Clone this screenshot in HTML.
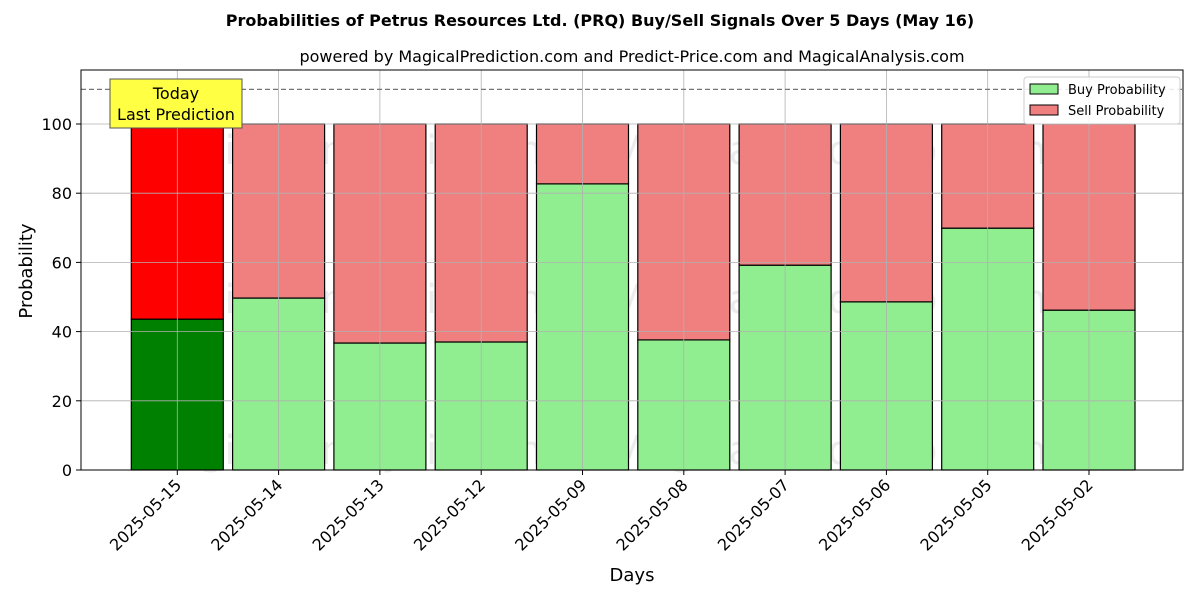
<!DOCTYPE html>
<html><head><meta charset="utf-8"><style>
body{margin:0;background:#fff}
svg text{font-family:"DejaVu Sans","Liberation Sans",sans-serif}
</style></head><body>
<svg id="chart" width="1200" height="600" viewBox="0 0 1200 600" xmlns="http://www.w3.org/2000/svg">
<text x="600" y="26" text-anchor="middle" font-size="16" font-weight="bold">Probabilities of Petrus Resources Ltd. (PRQ) Buy/Sell Signals Over 5 Days (May 16)</text>
<text x="632" y="62" text-anchor="middle" font-size="16">powered by MagicalPrediction.com and Predict-Price.com and MagicalAnalysis.com</text>
<g id="plot"></g>
</svg>
<script>
const categories=["2025-05-15","2025-05-14","2025-05-13","2025-05-12","2025-05-09","2025-05-08","2025-05-07","2025-05-06","2025-05-05","2025-05-02"];
const buyValues=[43.6,49.7,36.7,37.0,82.7,37.6,59.2,48.6,69.9,46.2];
const yTicks=[0,20,40,60,80,100];
const NS="http://www.w3.org/2000/svg";
const L=81,R=1183,T=70,B=470;
const x=i=>177.3+i*101.3;
const y=v=>B-v*3.46;
const bw=92;
const g=document.getElementById('plot');
function mk(tag,attrs,parent){const e=document.createElementNS(NS,tag);for(const k in attrs)e.setAttribute(k,attrs[k]);(parent||g).appendChild(e);return e;}
// watermarks
[["MagicalAnalysis.com",348,150],["MagicalPrediction.com",836,150],["MagicalAnalysis.com",348,299],["MagicalPrediction.com",836,299],["MagicalAnalysis.com",348,450],["MagicalPrediction.com",836,450]].forEach(w=>{
 const t=mk('text',{x:w[1],y:w[2]+14,'text-anchor':'middle','font-size':40,fill:'rgba(150,150,150,0.18)'});t.textContent=w[0];
 
 
});
categories.forEach((c,i)=>{
 const v=buyValues[i];
 const b=mk('rect',{x:x(i)-bw/2,y:y(v),width:bw,height:B-y(v),fill:i==0?'#008000':'#90ee90',stroke:'#000','stroke-width':1.2});
 
 
 const s=mk('rect',{x:x(i)-bw/2,y:y(100),width:bw,height:y(v)-y(100),fill:i==0?'#ff0000':'#f08080',stroke:'#000','stroke-width':1.2});
 
 
});
// grid
yTicks.forEach(v=>{
 const l=mk('line',{x1:L,x2:R,y1:y(v),y2:y(v),stroke:'#b0b0b0','stroke-width':0.8});
 
 
 const tk=mk('line',{x1:L-5,x2:L,y1:y(v),y2:y(v),stroke:'#000'});
 
 
 const t=mk('text',{x:L-9,y:y(v)+6,'text-anchor':'end','font-size':16});t.textContent=v;
 
 
});
categories.forEach((c,i)=>{
 const l=mk('line',{x1:x(i),x2:x(i),y1:T,y2:B,stroke:'#b0b0b0','stroke-width':0.8});
 
 
 const tk=mk('line',{x1:x(i),x2:x(i),y1:B,y2:B+5,stroke:'#000'});
 
 
 const t=mk('text',{x:0,y:0,'text-anchor':'end','font-size':16,transform:`translate(${x(i)+5},${B+16}) rotate(-45)`});t.textContent=c;
 
 
});
const d=mk('line',{x1:L,x2:R,y1:y(110),y2:y(110),stroke:'#777','stroke-width':1.2,'stroke-dasharray':'5,3'});


const fr=mk('rect',{x:L,y:T,width:R-L,height:B-T,fill:'none',stroke:'#000','stroke-width':1});


// annotation
const ab=mk('rect',{x:110,y:79,width:132,height:49,fill:'#ffff44',stroke:'#555','stroke-width':1});


[["Today",99],["Last Prediction",120]].forEach(a=>{const t=mk('text',{x:176,y:a[1],'text-anchor':'middle','font-size':16});t.textContent=a[0];
 
 });
// legend
const lg=mk('rect',{x:1024,y:77,width:156,height:47,fill:'#fff','fill-opacity':0.85,stroke:'#ccc',rx:3});


[["Buy Probability","#90ee90",89],["Sell Probability","#f08080",110]].forEach(e=>{
 const r=mk('rect',{x:1030,y:e[2]-5,width:28,height:10,fill:e[1],stroke:'#000'});
 
 
 const t=mk('text',{x:1068,y:e[2]+5,'font-size':13});t.textContent=e[0];
 
 
});
const xt=mk('text',{x:632,y:581,'text-anchor':'middle','font-size':18});xt.textContent='Days';


const yt=mk('text',{x:0,y:0,'text-anchor':'middle','font-size':18,transform:'translate(32,271) rotate(-90)'});yt.textContent='Probability';


</script>
</body></html>
